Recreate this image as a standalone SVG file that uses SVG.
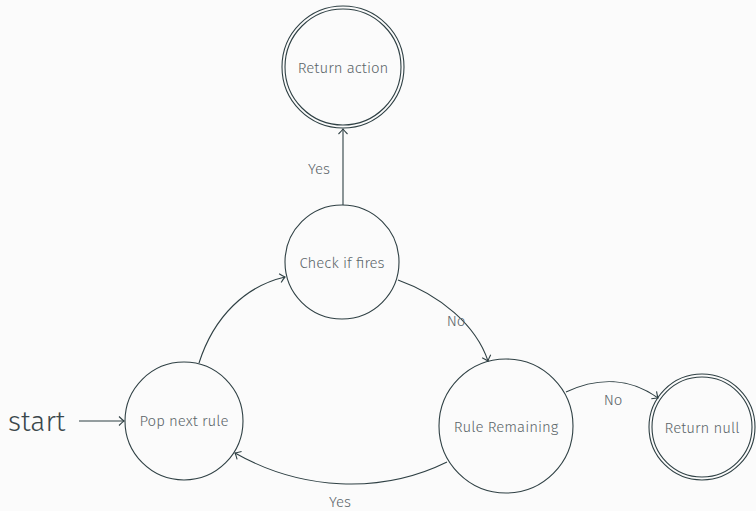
<svg xmlns="http://www.w3.org/2000/svg" width="756" height="511" viewBox="0 0 756 511">
<style>
.n{fill:none;stroke:#2f4044;stroke-width:1.1}
.t{font-family:"Fira Sans","Open Sans","Liberation Sans",sans-serif;font-size:15px;font-weight:300;fill:#5b666a;text-anchor:middle;dominant-baseline:central}
.e{fill:none;stroke:#2f4044;stroke-width:1.1}
</style>
<defs>
<marker id="a" markerUnits="userSpaceOnUse" markerWidth="12" markerHeight="12" refX="0" refY="0" viewBox="-8 -6 10 12" orient="auto">
<path d="M-5,-4.5 Q-1.5,-1 0,0 Q-1.5,1 -5,4.5" fill="none" stroke="#2f4044" stroke-width="1.1"/>
</marker>
</defs>
<rect width="756" height="511" fill="#fbfbfb"/>
<g id="return-action"><circle class="n" cx="343" cy="67" r="61"/><circle class="n" cx="343" cy="67" r="58"/><text class="t" x="343" y="68">Return action</text></g>
<g id="check-if-fires"><circle class="n" cx="342" cy="262" r="57"/><text class="t" x="342" y="263">Check if fires</text></g>
<g id="pop-next-rule"><circle class="n" cx="184" cy="421" r="59"/><text class="t" x="184" y="421">Pop next rule</text></g>
<g id="rule-remaining"><circle class="n" cx="506" cy="426" r="67"/><text class="t" x="506" y="427">Rule Remaining</text></g>
<g id="return-null"><circle class="n" cx="702" cy="427" r="53"/><circle class="n" cx="702" cy="427" r="50"/><text class="t" x="702" y="428">Return null</text></g>
<g id="start"><text x="8" y="431" style="font-family:'Fira Sans','Open Sans','Liberation Sans',sans-serif;font-size:28px;font-weight:300;fill:#3a474b">start</text></g>
<g id="connectors">
<path class="e" d="M79,421 L124,421" marker-end="url(#a)"/>
<path class="e" d="M343,205 L343,129" marker-end="url(#a)"/>
<path class="e" d="M199,363 C214,316 246,286 285,277" marker-end="url(#a)"/>
<path class="e" d="M398,280 C440,295 476,325 488,361" marker-end="url(#a)"/>
<path class="e" d="M566,392 C598,377 630,378 658,398" marker-end="url(#a)"/>
<path class="e" d="M447,462 C380,495 300,490 235,453" marker-end="url(#a)"/>
<text class="t" x="319" y="169">Yes</text>
<text class="t" x="456" y="321">No</text>
<text class="t" x="613" y="400">No</text>
<text class="t" x="340" y="502">Yes</text>
</g>
</svg>
